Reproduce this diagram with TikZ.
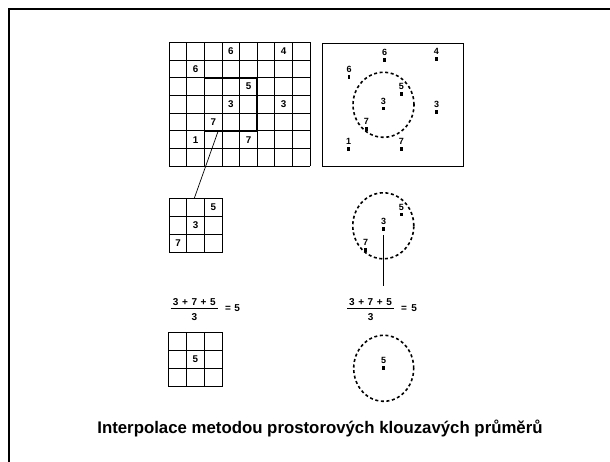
\documentclass[tikz,border=0pt]{standalone}
\usepackage{fontspec}
\setmainfont{Liberation Sans}
\begin{document}
\begin{tikzpicture}[x=1pt,y=-1pt,
  gridline/.style={line width=0.85pt},
  boldbox/.style={line width=1.9pt},
  num/.style={font=\fontsize{9.8}{10}\selectfont\bfseries, inner sep=0pt},
  ptlab/.style={font=\fontsize{9}{9}\selectfont\bfseries, inner sep=0pt},
  ptdot/.style={fill=black, minimum width=2.6pt, minimum height=3.8pt, inner sep=0pt, draw=none},
  dashring/.style={line width=1.6pt, dash pattern=on 3pt off 2.6pt},
  frameline/.style={line width=2pt},
  fml/.style={font=\fontsize{10}{10}\selectfont\bfseries, inner sep=0pt},
  thinline/.style={line width=0.7pt}]
\fill[white] (0,0) rectangle (610,462);
\useasboundingbox (0,0) rectangle (610,462);
\draw[frameline] (8.5,462) -- (8.5,9.2) -- (610,9.2);

% big grid
\foreach \i in {0,...,8} \draw[gridline] ({169.3+17.6*\i},42.3) -- ({169.3+17.6*\i},166.2);
\foreach \j in {0,...,7} \draw[gridline] (169.3,{42.3+17.7*\j}) -- (310.1,{42.3+17.7*\j});
\draw[boldbox] (204.5,77.7) rectangle (257.3,130.8);
\foreach \c/\r/\v [count=\k] in {3/0/6,6/0/4,1/1/6,4/2/5,3/3/3,6/3/3,2/4/7,1/5/1,4/5/7}
  \node[num] (g\k) at ({169.3+17.6*(\c+0.5)},{42.3+17.7*(\r+0.5)}) {\v};

% right box with points
\draw[line width=1.1pt] (322.6,43.3) rectangle (463.4,166.7);
\foreach \x/\y/\v [count=\k] in {384.7/52.3/6,436.3/51.7/4,349/69.3/6,401.3/86.7/5,383.3/101/3,436.7/104.3/3,366.3/121.7/7,348.7/141.7/1,401.3/141.7/7}{
  \node[ptlab] (p\k) at (\x,\y) {\v};
  \node[ptdot] (pd\k) at (\x,\y+7.5) {};
}
\draw[dashring] (383.5,104.8) ellipse [x radius=30.5pt, y radius=32.5pt];

% connector to small grid
\coordinate (zoomsrc) at (218,131.5);
\coordinate (smalltop) at (194.3,198.3);
\draw[thinline] (zoomsrc) -- (smalltop);

% small grid
\foreach \i in {0,...,3} \draw[gridline] ({169.3+17.6*\i},198.3) -- ({169.3+17.6*\i},252.7);
\foreach \j in {0,...,3} \draw[gridline] (169.3,{198.3+18.13*\j}) -- (222.1,{198.3+18.13*\j});
\foreach \c/\r/\v [count=\k] in {2/0/5,1/1/3,0/2/7}
  \node[num] (s\k) at ({169.3+17.6*(\c+0.5)},{198.3+18.13*(\r+0.5)}) {\v};

% middle ellipse
\draw[dashring] (383.3,225.8) ellipse [x radius=30.5pt, y radius=33pt];
\foreach \x/\y/\v [count=\k] in {401.3/207.3/5,383.7/221.7/3,365.7/242.7/7}{
  \node[ptlab] (m\k) at (\x,\y) {\v};
  \node[ptdot] (md\k) at (\x,\y+7.2) {};
}
\coordinate (vtop) at (383.3,235);
\coordinate (vbot) at (383.3,286);
\draw[thinline] (vtop) -- (vbot);

% left formula
\node[fml] (lnum) at (194.3,302) {3\hspace{3.6pt}+\hspace{3.6pt}7\hspace{3.6pt}+\hspace{3.6pt}5};
\draw[line width=0.8pt] (170.7,308.2) -- (218.3,308.2);
\node[fml] (lden) at (194.3,316.8) {3};
\node[fml] (leq) at (232.5,308.3) {=\hspace{3.5pt}5};

% right formula
\node[fml] (rnum) at (370.5,302) {3\hspace{3.6pt}+\hspace{3.6pt}7\hspace{3.6pt}+\hspace{3.6pt}5};
\draw[line width=0.8pt] (347,308.2) -- (394,308.2);
\node[fml] (rden) at (370.7,316.8) {3};
\node[fml] (req) at (409,308.3) {=\hspace{4.5pt}5};

% bottom grid
\foreach \i in {0,...,3} \draw[gridline] ({168.6+17.85*\i},332) -- ({168.6+17.85*\i},386.7);
\foreach \j in {0,...,3} \draw[gridline] (168.6,{332+18.23*\j}) -- (222.15,{332+18.23*\j});
\node[num] (b1) at ({168.6+17.85*1.5},{332+18.23*1.5}) {5};

% bottom ellipse
\draw[dashring] (383.7,368.3) ellipse [x radius=30pt, y radius=33pt];
\node[ptlab] (e1) at (383.5,360.7) {5};
\node[ptdot] (ed1) at (383.5,367.8) {};

% title
\node[font=\fontsize{16.8}{20}\selectfont\bfseries, anchor=base, inner sep=0pt] (title) at (320,433) {Interpolace metodou prostorových klouzavých průměrů};
\end{tikzpicture}
\end{document}
